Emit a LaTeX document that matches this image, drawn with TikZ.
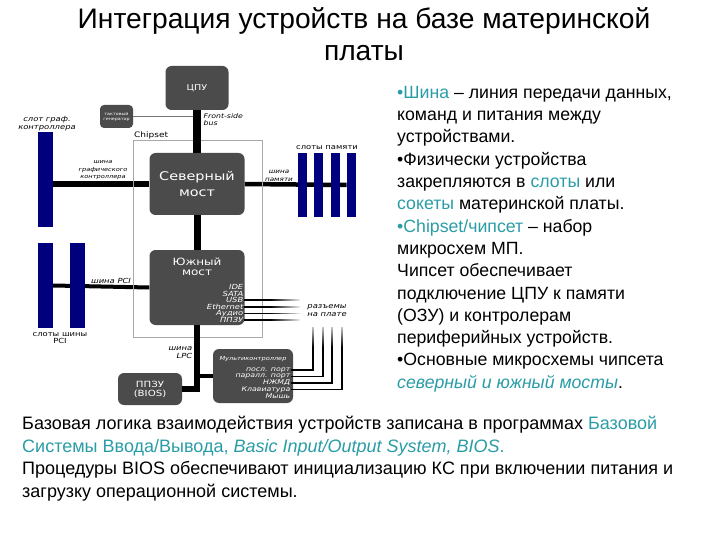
\documentclass[tikz,border=0pt]{standalone}
\usepackage{fontspec}
\setmainfont{Liberation Sans}
\newfontfamily\diagfont[FakeStretch=1.2]{DejaVu Sans}
\usepackage{tikz}
\usetikzlibrary{positioning,backgrounds,fadings}
\definecolor{boardGray}{HTML}{4B4B4B}
\definecolor{slotBlue}{HTML}{00007F}
\definecolor{noteTeal}{HTML}{2A9CA6}
\definecolor{frameGray}{HTML}{A8A8A8}
\definecolor{wireGray}{HTML}{777777}
\newcommand{\hl}[1]{\textcolor{noteTeal}{#1}}
\newcommand{\dfont}[2]{\diagfont\fontsize{#1}{#2}\selectfont}
\tikzset{
  chip/.style={fill=boardGray,rounded corners=6pt,text=white,align=center,inner sep=0pt},
  chiptext/.style={text=white,align=center,inner sep=0.5pt},
  chiplist/.style={text=white,align=right,inner sep=0.5pt,anchor=east},
  slotbar/.style={fill=slotBlue,inner sep=0pt},
  busline/.style={line width=#1,black},
  busline/.default=5pt,
  thinwire/.style={line width=1.8pt,black},
  frameline/.style={draw=frameGray,line width=0.6pt},
  lbl/.style={inner sep=0.5pt,align=center,text=black},
  bodytext/.style={align=left,inner sep=0pt,text=black},
}

\begin{document}
\begin{tikzpicture}[x=1pt,y=-1pt]
  \useasboundingbox (0,0) rectangle (720,540);
  \node[lbl,font=\fontsize{28.2}{32}\selectfont] (title) at (364,34) {Интеграция устройств на базе материнской\\платы};

  \draw[frameline] (133,140) rectangle (262,337);
  \node[lbl,anchor=south west,inner sep=1pt,font=\dfont{7.5}{8}] (chipset) at (133,140) {Chipset};

  \node[chip,minimum width=63,minimum height=44,font=\dfont{8}{9}] (cpu) at (197,88) {ЦПУ};
  \node[chip,minimum width=33,minimum height=23,rounded corners=4pt,font=\dfont{4}{5}] (clk) at (116.5,116.5) {тактовый\\генератор};
  \node[chip,minimum width=95,minimum height=62,font=\dfont{12}{16}] (nb) at (197,184) {Северный\\мост};
  \node[chip,minimum width=95,minimum height=75] (sb) at (197,287.5) {};
  \node[chiptext,font=\dfont{10}{10.5}] (sbname) at (197,267) {Южный\\мост};
  \foreach \t [count=\i] in {IDE,SATA,USB,Ethernet,Аудио,ППЗУ}
    \node[chiplist,font=\dfont{7}{7}\itshape] (sbp\i) at (244,{280.5+6.6*\i}) {\t};
  \node[chip,minimum width=64,minimum height=32,font=\dfont{8.5}{9}] (bios) at (150,389) {ППЗУ\\(BIOS)};
  \node[chip,minimum width=80,minimum height=54] (mc) at (253,376) {};
  \node[chiptext,font=\dfont{5.5}{6}\itshape] (mcname) at (253,359) {Мультиконтроллер};
  \foreach \t [count=\i] in {посл. порт,паралл. порт,НЖМД,Клавиатура,Мышь}
    \node[chiplist,font=\dfont{6.5}{6.5}\itshape] (mcp\i) at (291,{363.5+6.5*\i}) {\t};

  \node[slotbar,minimum width=15,minimum height=95] (gslot) at (45.5,179.5) {};
  \foreach \i/\x in {1/45.5,2/77.5}
    \node[slotbar,minimum width=15,minimum height=85] (pci\i) at (\x,285.5) {};
  \foreach \i in {1,...,4}
    \node[slotbar,minimum width=9,minimum height=64] (mem\i) at ({286.2+16.3*\i},185) {};

  \begin{scope}[on background layer]
    \draw[wireGray,line width=0.6pt] (clk.east) -- (clk.east -| cpu.south);
    \draw[busline=6.5pt] (nb.west) -- (nb.west -| gslot.east);
    \draw[busline=4.5pt] (nb.east) -- (mem4.west);
    \draw[busline=4pt] (sb.west) -- (pci1.east);
  \end{scope}
  \draw[busline=8pt] (cpu.south) -- (nb.north);
  \draw[busline=7pt] (nb.south) -- (sb.north);
  \draw[busline=5.5pt] (sb.south) |- (bios.east);
  \coordinate (lpcjoint) at (sb.south |- mc.west);
  \draw[busline=4pt] (lpcjoint) -- (mc.west);

  \foreach \i in {3,...,6}{
    \path (sbp\i.east) ++(56,0) coordinate (sbend\i);
    \draw[thinwire] (sbp\i.east) -- (sbend\i);
  }
  \foreach \i/\x in {1/313,2/323,3/332,4/342}{
    \coordinate (mctop\i) at (\x,327);
    \draw[thinwire] (mcp\i.east) -| (mctop\i);
  }
  \fill[white,path fading=west] (270,295) rectangle (302,325);
  \fill[white,path fading=south] (306,321) rectangle (348,347);

  \node[lbl,font=\dfont{7}{7.5}\itshape] (gslotlbl) at (47,123.5) {слот граф.\\контроллера};
  \node[lbl,font=\dfont{5.5}{7.5}\itshape] (agplbl) at (103,170.5) {шина\\графического\\контроллера};
  \node[lbl,font=\dfont{7}{8}\itshape] (pcilbl) at (111,281) {шина PCI};
  \node[lbl,font=\dfont{7}{6.5}] (pcislotlbl) at (60,338) {слоты шины\\PCI};
  \node[lbl,anchor=east,align=right,font=\dfont{7}{8.5}\itshape] (lpclbl) at (193,352.5) {шина\\LPC};
  \node[lbl,font=\dfont{6}{8}\itshape] (memlbl) at (279,176) {шина\\памяти};
  \node[lbl,font=\dfont{7}{8}] (memslotlbl) at (327,148) {слоты памяти};
  \node[lbl,font=\dfont{7}{8}\itshape] (conlbl) at (327,311) {разъемы\\на плате};
  \node[lbl,anchor=west,align=left,font=\dfont{6.5}{7}\itshape] (fsblbl) at (203,120) {Front-side\\bus};

  \node[bodytext,anchor=north west,font=\fontsize{17.7}{22.3}\selectfont] (notes) at (397,86) {%
    \hl{•Шина} – линия передачи данных,\\
    команд и питания между\\
    устройствами.\\
    •Физически устройства\\
    закрепляются в \hl{слоты} или\\
    \hl{сокеты} материнской платы.\\
    \hl{•Chipset/чипсет} – набор\\
    микросхем МП.\\
    Чипсет обеспечивает\\
    подключение ЦПУ к памяти\\
    (ОЗУ) и контролерам\\
    периферийных устройств.\\
    •Основные микросхемы чипсета\\
    \hl{\textit{северный и южный мосты}}.};
  \node[bodytext,anchor=north west,font=\fontsize{18}{22.5}\selectfont] (footer) at (22,416) {%
    Базовая логика взаимодействия устройств записана в программах \hl{Базовой}\\
    \hl{Системы Ввода/Вывода, \textit{Basic Input/Output System, BIOS}.}\\
    Процедуры BIOS обеспечивают инициализацию КС при включении питания и\\
    загрузку операционной системы.};
\end{tikzpicture}
\end{document}
